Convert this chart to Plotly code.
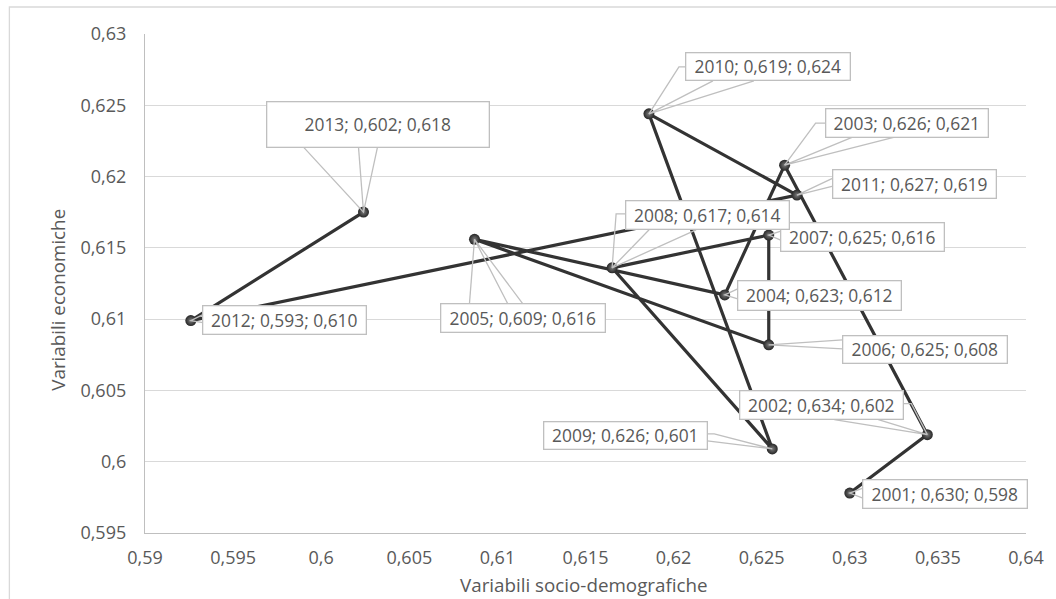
import plotly.graph_objects as go

# Yearly index values
years = [2001, 2002, 2003, 2004, 2005, 2006, 2007, 2008, 2009, 2010, 2011, 2012, 2013]
socio_demo = [0.6300, 0.6344, 0.6263, 0.6229, 0.6087, 0.6254, 0.6254,
              0.61651, 0.6256, 0.6186, 0.6270, 0.5926, 0.6024]
economic = [0.5978, 0.6019, 0.6208, 0.6117, 0.6156, 0.6082, 0.6159,
            0.6136, 0.6009, 0.6244, 0.6187, 0.6099, 0.61751]

x_ticks = [0.59 + 0.005 * i for i in range(11)]
y_ticks = [0.595 + 0.005 * i for i in range(8)]

TEXT = "#595959"
GRID = "#d9d9d9"
CALLOUT = "#bfbfbf"
FONT = "Open Sans, sans-serif"

# Callout placement in screen pixels relative to each point:
# box centre offset (dx, dy, +dy = down), box size, and leader polylines.
callouts = {
    2001: dict(dx=95.5, dy=0.5, w=165, h=29, legs=[[(13, -5), (0, 0), (13, 5)]]),
    2002: dict(dx=-106, dy=-29.5, w=164, h=29,
               legs=[[(-93, -15), (0, 0), (-49, -15)], [(-24, -31), (-16, -31), (0, 0)]]),
    2003: dict(dx=122.5, dy=-42.5, w=163, h=29,
               legs=[[(41, -42), (31, -42), (0, 0)], [(68, -28), (0, 0), (110, -28)]]),
    2004: dict(dx=95, dy=1, w=164, h=30, legs=[[(13, -6), (0, 0), (13, 4)]]),
    2005: dict(dx=48.5, dy=79, w=165, h=29,
               legs=[[(-5, 64), (0, 0)], [(33, 64), (0, 0), (48, 64)]]),
    2006: dict(dx=156.5, dy=5, w=165, h=28, legs=[[(74, -5), (0, 0), (74, 4)]]),
    2007: dict(dx=94, dy=1.5, w=164, h=29, legs=[[(12, -4), (0, 0), (12, 5)]]),
    2008: dict(dx=95, dy=-52.5, w=164, h=29,
               legs=[[(13, -54), (4, -54), (0, 0)], [(37, -38), (0, 0), (84, -38)]]),
    2009: dict(dx=-147, dy=-13, w=164, h=28,
               legs=[[(-65, -15), (-58, -15), (0, 0), (-65, -8)]]),
    2010: dict(dx=119.5, dy=-47, w=165, h=28,
               legs=[[(37, -47), (30, -47), (0, 0)], [(64, -33), (0, 0), (105, -33)]]),
    2011: dict(dx=118, dy=-11.5, w=164, h=29, legs=[[(36, -17), (0, 0), (36, -9)]]),
    2012: dict(dx=94, dy=-0.5, w=164, h=29, legs=[[(12, -6), (0, 0), (12, 2)]]),
    2013: dict(dx=14.5, dy=-88, w=223, h=46,
               legs=[[(-60, -65), (0, 0), (14, -65)], [(-5, -65), (0, 0)]]),
}


def fmt(v):
    return f"{v:.3f}".replace(".", ",")


fig = go.Figure()

fig.add_trace(go.Scatter(
    x=socio_demo,
    y=economic,
    mode="lines+markers",
    line=dict(color="#333333", width=3.2),
    marker=dict(size=11, color="#262626",
                gradient=dict(type="radial", color="#7a7a7a"),
                line=dict(width=0)),
    hoverinfo="skip",
    showlegend=False,
))

shapes = []
annotations = []
for yr, xv, yv in zip(years, socio_demo, economic):
    c = callouts[yr]
    for leg in c["legs"]:
        path = "M " + " L ".join(f"{px},{-py}" for px, py in leg)
        shapes.append(dict(
            type="path", path=path,
            xref="x", yref="y", xsizemode="pixel", ysizemode="pixel",
            xanchor=xv, yanchor=yv,
            line=dict(color=CALLOUT, width=1.3), layer="above",
        ))
    label = f"{yr}; {fmt(xv)}; {fmt(yv)}"
    annotations.append(dict(
        x=xv, y=yv, xref="x", yref="y",
        xshift=c["dx"], yshift=-c["dy"],
        text=label, showarrow=False,
        xanchor="center", yanchor="middle",
        width=c["w"] - 2, height=c["h"] - 2,
        align="center", valign="middle",
        bgcolor="white", bordercolor=CALLOUT, borderwidth=1.3, borderpad=0,
        font=dict(family=FONT, size=17.4, color=TEXT),
    ))

# Axis titles
annotations.append(dict(
    x=0.498, y=-0.104, xref="paper", yref="paper",
    text="Variabili socio-demografiche", showarrow=False,
    xanchor="center", yanchor="middle",
    font=dict(family=FONT, size=18.8, color=TEXT),
))
annotations.append(dict(
    x=-0.099, y=0.467, xref="paper", yref="paper",
    text="Variabili economiche", showarrow=False, textangle=-90,
    xanchor="center", yanchor="middle",
    font=dict(family=FONT, size=18.8, color=TEXT),
))

# Chart area frame
shapes.append(dict(
    type="rect", xref="paper", yref="paper",
    x0=(8 - 145) / 890, x1=(1070 - 145) / 890,
    y0=(533 - 620) / 499, y1=(533 - 7) / 499,
    line=dict(color=GRID, width=1.3), fillcolor="rgba(0,0,0,0)", layer="below",
))

fig.update_layout(
    width=1056, height=599,
    margin=dict(l=145, r=21, t=34, b=66),
    paper_bgcolor="white", plot_bgcolor="white",
    separators=",.",
    font=dict(family=FONT, color=TEXT),
    shapes=shapes,
    annotations=annotations,
    xaxis=dict(
        range=[0.59, 0.64], tickvals=x_ticks, showgrid=False, zeroline=False,
        showline=True, linecolor=CALLOUT, linewidth=1.3, ticks="",
        tickfont=dict(family=FONT, size=18, color=TEXT),
        ticklabelstandoff=8,
    ),
    yaxis=dict(
        range=[0.595, 0.63], tickvals=y_ticks, showgrid=True, gridcolor=GRID,
        gridwidth=1.3, zeroline=False, showline=True, linecolor=CALLOUT,
        linewidth=1.3, ticks="",
        tickfont=dict(family=FONT, size=18, color=TEXT),
        ticklabelstandoff=14,
    ),
)

fig.write_html("out.html")
